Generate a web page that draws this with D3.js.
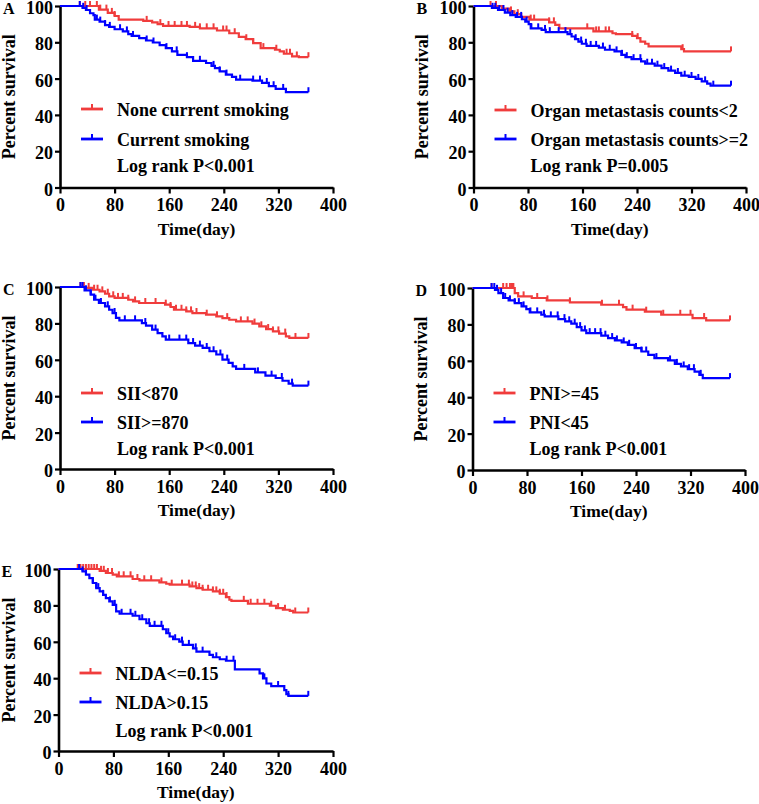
<!DOCTYPE html>
<html>
<head>
<meta charset="utf-8">
<script src="https://cdn.jsdelivr.net/npm/d3@7"></script>
<style>
  html, body { margin: 0; padding: 0; background: #fff; }
  svg { display: block; }
  text { font-family: "Liberation Serif", "Times New Roman", serif; font-weight: bold; fill: #000; }
</style>
</head>
<body>
<svg id="chart" width="759" height="804"></svg>
<script>
// ---------- DATA ----------
const xTicks = [0, 80, 160, 240, 320, 400];
const yTicks = [0, 20, 40, 60, 80, 100];
const panelLetters = ["A", "B", "C", "D", "E"];
const redLabels = ["None current smoking", "Organ metastasis counts<2", "SII<870", "PNI>=45", "NLDA<=0.15"];
const blueLabels = ["Current smoking", "Organ metastasis counts>=2", "SII>=870", "PNI<45", "NLDA>0.15"];
const pValues = ["Log rank P<0.001", "Log rank P=0.005", "Log rank P<0.001", "Log rank P<0.001", "Log rank P<0.001"];
const followUpEnd = [364, 378, 364, 378, 364];

// step points: [day, percent survival after the drop]
const stepsA_red = [[57,98],[70,96.2],[80,94.5],[86,92.5],[122,91.8],[135,91],[143,90],[151,89],[190,88.5],[205,87.7],[230,86.5],[248,85],[262,83],[272,81.7],[283,79.5],[294,76.8],[315,75.9],[322,75],[328,73.7],[340,72.2],[350,71.8]];
const stepsA_blue = [[33,99],[38,97.8],[44,96],[49,95],[51,92.5],[58,91.4],[66,89.5],[72,88.5],[80,87.2],[92,86],[100,84.5],[105,83.5],[116,82.3],[126,81],[136,79.9],[146,78.4],[155,76.8],[164,75],[172,73.1],[186,71.8],[195,69.8],[214,68.6],[222,67],[227,65.8],[234,64],[243,62.2],[252,60.9],[258,59.4],[282,58.9],[296,57.6],[306,55.8],[316,54.3],[331,52.5]];
const stepsB_red = [[42,98.5],[52,97],[60,95.5],[70,94],[82,92.5],[111,91],[120,89.6],[126,87.7],[176,86],[204,85],[209,84.5],[233,83.5],[240,82.3],[245,80.4],[252,79.2],[257,77.7],[305,76.2],[309,75]];
const stepsB_blue = [[27,99],[36,97.8],[46,96.3],[54,95],[62,94],[71,92.7],[76,91.4],[81,90],[84,87.7],[100,86.8],[106,85.6],[138,84.5],[144,83.2],[149,81.7],[154,80.4],[159,79.2],[166,78],[184,77.1],[193,75.9],[207,75],[217,73.1],[223,71.8],[232,70.7],[246,69.5],[252,68.2],[266,67.1],[276,65.8],[286,64.4],[296,63.1],[305,61.6],[316,60.9],[326,59.8],[335,58.5],[343,57.2],[348,56.1]];
const stepsC_red = [[38,99.5],[48,98.5],[58,97.6],[66,96.3],[72,94.9],[80,94],[100,93],[107,92.1],[116,91.2],[154,90.3],[162,89],[167,87.5],[185,86.6],[194,85.7],[214,84.8],[229,83.9],[238,82.9],[248,82],[258,81.1],[282,79.9],[292,78.4],[302,76.9],[312,75.6],[321,74.4],[331,72.9],[336,72]];
const stepsC_blue = [[36,98.2],[45,95.8],[50,93],[57,91.2],[66,89.4],[72,87.5],[77,85.7],[82,83],[87,81.7],[120,80.2],[126,78.8],[135,76.6],[143,74.7],[150,72.9],[155,71.1],[188,69.2],[198,67.8],[209,66.5],[219,64.7],[229,62.9],[238,60.1],[247,58.3],[253,56.4],[258,55],[286,53.1],[301,51.3],[316,50],[326,48.5],[335,46.9],[341,45.8]];
const stepsD_red = [[62,97.2],[67,95.4],[87,94.5],[109,93.2],[143,92.1],[189,90.8],[221,89.5],[226,88.1],[253,87],[277,85.3],[323,83.5],[343,82.2]];
const stepsD_blue = [[33,99],[38,97.2],[45,94.5],[53,93.2],[62,91.7],[72,89.9],[79,88.4],[84,86.6],[101,85.3],[106,84.4],[126,82.9],[136,81.7],[145,80.4],[153,78.5],[160,76.7],[167,75.2],[189,73.8],[199,72.5],[209,71.2],[219,70.1],[228,68.8],[238,67],[248,65.1],[258,63.3],[267,61.5],[287,60.2],[297,58.3],[306,56.9],[316,55.4],[326,54.1],[333,52.3],[338,50.5]];
const stepsE_red = [[60,99],[69,97.8],[79,96.9],[85,96],[108,94.5],[118,93.8],[147,92.6],[157,91.9],[162,91.4],[191,90.4],[201,89.5],[210,88.6],[225,87.7],[235,86.4],[244,84.6],[249,83.1],[252,82.5],[276,80.9],[308,79.8],[317,78.5],[327,77.6],[337,77],[342,76.1]];
const stepsE_blue = [[35,98.7],[40,96.9],[45,95],[50,92.3],[55,89.5],[60,87.7],[65,85.8],[69,84],[74,82.2],[79,80.3],[84,76.7],[89,75.4],[108,74.3],[118,72.4],[128,70.2],[133,68.8],[152,66.9],[157,64.7],[162,62.9],[167,61.4],[176,60.1],[181,58.3],[196,56.4],[201,54.6],[220,52.8],[225,51.5],[235,50.4],[244,49.6],[257,44.9],[293,42.6],[298,39.9],[303,37.1],[310,35.7],[329,33.5],[332,31.3],[335,30.3]];

// censored observation days
const censA_red = [29,37,44,54,59,68,76,80,127,147,159,168,178,186,198,205,215,225,239,244,256,273,283,298,317,332,337,347,364];
const censA_blue = [29,34,39,54,59,66,73,88,98,107,127,137,156,171,186,205,225,234,244,264,283,293,303,313,327,364];
const censB_red = [25,33,55,65,84,89,111,118,167,180,184,194,199,233,241,307,378];
const censB_blue = [28,32,38,44,50,57,64,70,78,85,95,105,112,125,135,142,150,158,165,172,180,190,200,210,218,225,235,245,255,262,270,280,290,300,310,320,330,340,352,378];
const censC_red = [30,35,42,50,55,62,70,78,85,92,100,110,125,140,155,162,170,178,185,192,200,215,230,245,265,275,285,295,305,312,320,330,345,364];
const censC_blue = [30,33,38,45,52,60,70,80,95,110,125,140,160,175,185,195,205,215,225,235,245,270,290,310,325,340,364];
const censD_red = [28,45,50,55,58,60,75,95,110,143,190,215,235,255,280,305,320,340,378];
const censD_blue = [28,32,36,42,48,55,62,68,75,85,95,105,115,125,135,142,150,158,165,172,180,188,195,205,212,222,230,240,248,255,270,290,300,310,318,325,335,378];
const censE_red = [28,32,36,40,44,48,52,56,62,66,72,78,88,95,105,115,125,135,150,165,180,190,195,200,205,210,218,225,230,235,240,245,270,280,290,300,310,320,330,345,364];
const censE_blue = [30,35,40,50,55,58,65,75,82,92,105,112,122,132,140,150,160,170,180,190,200,210,230,245,255,300,320,335,364];

const redSteps = [stepsA_red, stepsB_red, stepsC_red, stepsD_red, stepsE_red];
const blueSteps = [stepsA_blue, stepsB_blue, stepsC_blue, stepsD_blue, stepsE_blue];
const redCens = [censA_red, censB_red, censC_red, censD_red, censE_red];
const blueCens = [censA_blue, censB_blue, censC_blue, censD_blue, censE_blue];

// ---------- LAYOUT ----------
const layout = [
  {x0: 60,    x1: 333, yT: 6,   yB: 187.5, leg: [109, 139, 165], yl: 45},
  {x0: 473.5, x1: 746, yT: 6,   yB: 187.5, leg: [110, 139, 165], yl: 46},
  {x0: 60,    x1: 333, yT: 287, yB: 469,   leg: [393, 422, 448], yl: 45},
  {x0: 472.5, x1: 745, yT: 288, yB: 470,   leg: [393, 422, 448], yl: 46},
  {x0: 58.5,  x1: 333, yT: 569, yB: 751,   leg: [673, 702, 730], yl: 43.5}
];
const RED = "#f03c3c", BLUE = "#0000ff";
const FS = "18px";
const svg = d3.select("#chart");

function survAt(steps, t) {
  let s = 100;
  for (const [tt, v] of steps) { if (tt <= t) s = v; else break; }
  return s;
}

layout.forEach((L, i) => {
  const x = d3.scaleLinear().domain([0, 400]).range([L.x0, L.x1]);
  const y = d3.scaleLinear().domain([0, 100]).range([L.yB, L.yT]);
  const g = svg.append("g");

  // axes
  const ya = g.append("g").attr("transform", `translate(${L.x0},0)`)
    .call(d3.axisLeft(y).tickValues(yTicks).tickSize(5).tickSizeOuter(0).tickPadding(2));
  const xa = g.append("g").attr("transform", `translate(0,${L.yB})`)
    .call(d3.axisBottom(x).tickValues(xTicks).tickSize(6).tickSizeOuter(0).tickPadding(5));
  [ya, xa].forEach(a => {
    a.select(".domain").attr("stroke", "#000").attr("stroke-width", 2.6);
    a.selectAll(".tick line").attr("stroke", "#000").attr("stroke-width", 2.2);
    a.selectAll(".tick text").style("font-family", '"Liberation Serif", serif')
      .style("font-weight", "bold").style("font-size", FS).attr("fill", "#000");
  });
  ya.selectAll(".tick text").attr("dy", "0.42em");
  xa.selectAll(".tick text").attr("dy", "0.71em");

  // titles
  g.append("text").attr("x", (L.x0 + L.x1) / 2).attr("y", L.yB + 47)
    .attr("text-anchor", "middle").style("font-size", "17.5px").text("Time(day)");
  g.append("text").attr("transform", `translate(${L.x0 - L.yl},${(L.yT + L.yB) / 2}) rotate(-90)`)
    .attr("text-anchor", "middle").style("font-size", FS).text("Percent survival");
  g.append("text").attr("x", L.x0 - 57).attr("y", L.yT + 7.5)
    .style("font-size", "16px").text(panelLetters[i]);

  // curves
  const line = d3.line().x(d => x(d[0])).y(d => y(d[1])).curve(d3.curveStepAfter);
  const series = [
    {steps: redSteps[i], cens: redCens[i], color: RED},
    {steps: blueSteps[i], cens: blueCens[i], color: BLUE}
  ];
  series.forEach(S => {
    const end = followUpEnd[i];
    const pts = [[0, 100], ...S.steps, [end, S.steps[S.steps.length - 1][1]]];
    g.append("path").datum(pts).attr("d", line)
      .attr("fill", "none").attr("stroke", S.color).attr("stroke-width", 2.2);
    g.selectAll(null).data(S.cens).enter().append("line")
      .attr("x1", d => x(d)).attr("x2", d => x(d))
      .attr("y1", d => y(survAt(S.steps, d)))
      .attr("y2", d => y(survAt(S.steps, d)) - 5)
      .attr("stroke", S.color).attr("stroke-width", 2);
  });

  // legend
  const lx = L.x0 + 21;
  [[RED, redLabels[i], L.leg[0]], [BLUE, blueLabels[i], L.leg[1]]].forEach(([c, lab, ly]) => {
    g.append("line").attr("x1", lx).attr("x2", lx + 22).attr("y1", ly).attr("y2", ly)
      .attr("stroke", c).attr("stroke-width", 2.8);
    g.append("line").attr("x1", lx + 11).attr("x2", lx + 11).attr("y1", ly).attr("y2", ly - 5)
      .attr("stroke", c).attr("stroke-width", 2);
    g.append("text").attr("x", lx + 36).attr("y", ly + 6.5).style("font-size", FS).text(lab);
  });
  g.append("text").attr("x", lx + 36).attr("y", L.leg[2] + 6.5).style("font-size", FS).text(pValues[i]);
});
</script>
</body>
</html>
